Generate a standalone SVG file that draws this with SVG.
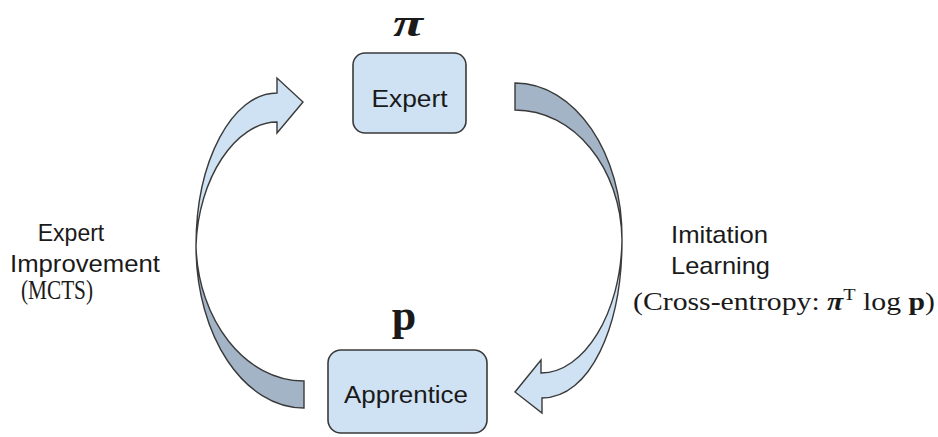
<svg xmlns="http://www.w3.org/2000/svg" width="938" height="437" viewBox="0 0 938 437">
<style>
.box{fill:#cfe2f3;stroke:#3a3a3a;stroke-width:1.6}
.light{fill:#cfe2f3;stroke:#3a3a3a;stroke-width:1.4;stroke-linejoin:miter}
.dark{fill:#a4b4c7;stroke:#3a3a3a;stroke-width:1.4}
.sans{font-family:"Liberation Sans",Arial,sans-serif;fill:#1a1a1a}
.serif{font-family:"Liberation Serif","Times New Roman",serif;fill:#1a1a1a}
</style>
<rect width="938" height="437" fill="#ffffff"/>
<g id="connectors">
  <g id="arrow-improvement">
    <path class="dark" d="M196,246 C196,336 244,408 304,408 L304,381 C245,381 198,320 196,246 Z"/>
    <path class="light" d="M196,246 C196,161 232,93 277,93 L277,78 L303,102 L277,133 L277,122 C236,122 198,178 196,246 Z"/>
  </g>
  <g id="arrow-imitation">
    <path class="dark" d="M515,83 C575,83 623,153 622,240 C621,168 574,110 515,110 Z"/>
    <path class="light" d="M622,240 C622,327 590,398 542,398 L542,413 L515,392 L541,360 L541,373 C584,373 621,313 622,240 Z"/>
  </g>
</g>
<g id="expert">
  <rect class="box" x="353" y="53" width="113" height="80" rx="12"/>
  <text class="sans" x="409.5" y="107" font-size="23" text-anchor="middle" textLength="76" lengthAdjust="spacingAndGlyphs">Expert</text>
  <text class="serif" x="408" y="36" font-size="37" font-weight="bold" font-style="italic" text-anchor="middle" textLength="30" lengthAdjust="spacingAndGlyphs">π</text>
</g>
<g id="apprentice">
  <rect class="box" x="328" y="350" width="159" height="83" rx="13"/>
  <text class="sans" x="406" y="403" font-size="23" text-anchor="middle" textLength="124" lengthAdjust="spacingAndGlyphs">Apprentice</text>
  <text class="serif" x="404" y="330" font-size="44" font-weight="bold" text-anchor="middle">p</text>
</g>
<g id="label-left">
  <text class="sans" x="71" y="241" font-size="23" text-anchor="middle">Expert</text>
  <text class="sans" x="85" y="272" font-size="23" text-anchor="middle" textLength="150" lengthAdjust="spacingAndGlyphs">Improvement</text>
  <text class="serif" x="57" y="299" font-size="27" text-anchor="middle" textLength="72" lengthAdjust="spacingAndGlyphs">(MCTS)</text>
</g>
<g id="label-right">
  <text class="sans" x="671" y="243" font-size="24" textLength="97" lengthAdjust="spacingAndGlyphs">Imitation</text>
  <text class="sans" x="671" y="274" font-size="24" textLength="99" lengthAdjust="spacingAndGlyphs">Learning</text>
  <text class="serif" x="633" y="310" font-size="25" textLength="302" lengthAdjust="spacingAndGlyphs">(Cross-entropy:  <tspan font-weight="bold" font-style="italic">π</tspan><tspan font-size="17" dy="-10">T</tspan><tspan dy="10"> log </tspan><tspan font-weight="bold">p</tspan>)</text>
</g>
</svg>
